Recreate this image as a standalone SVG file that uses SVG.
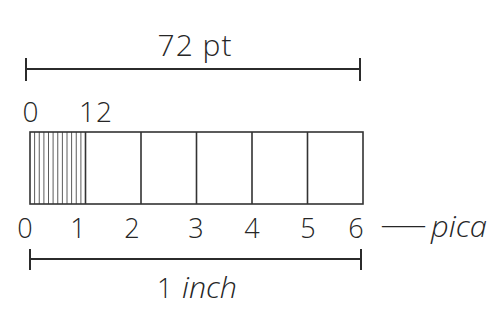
<svg xmlns="http://www.w3.org/2000/svg" width="501" height="324" viewBox="0 0 501 324">
  <style>
    .t { font-family: "Open Sans", "Noto Sans", "Liberation Sans", sans-serif; font-weight: 300; fill: #262626; }
    .i { font-style: italic; }
    .dim { stroke: #2b2b2b; stroke-width: 2; fill: none; }
    .box { stroke: #333; stroke-width: 1.6; fill: none; }
    .hatch { stroke: #4a4a4a; stroke-width: 0.9; }
  </style>
  <rect width="501" height="324" fill="#ffffff"/>
  <g id="dim-72pt">
    <path class="dim" d="M26 69 H360 M26 58 V81 M360 58 V81"/>
    <text class="t" x="195" y="56" font-size="30" letter-spacing="1" text-anchor="middle">72 pt</text>
  </g>
  <g id="labels-points" class="t" font-size="28" text-anchor="middle">
    <text x="30.5" y="122">0</text>
    <text x="96" y="122" letter-spacing="1">12</text>
  </g>
  <g id="ruler">
    <g id="hatching" class="hatch">
      <line x1="34.6" y1="132" x2="34.6" y2="204"/>
      <line x1="39.25" y1="132" x2="39.25" y2="204"/>
      <line x1="43.9" y1="132" x2="43.9" y2="204"/>
      <line x1="48.5" y1="132" x2="48.5" y2="204"/>
      <line x1="53.1" y1="132" x2="53.1" y2="204"/>
      <line x1="57.75" y1="132" x2="57.75" y2="204"/>
      <line x1="62.4" y1="132" x2="62.4" y2="204"/>
      <line x1="67" y1="132" x2="67" y2="204"/>
      <line x1="71.6" y1="132" x2="71.6" y2="204"/>
      <line x1="76.25" y1="132" x2="76.25" y2="204"/>
      <line x1="80.9" y1="132" x2="80.9" y2="204"/>
    </g>
    <rect class="box" x="30" y="132" width="333" height="72"/>
    <path class="box" d="M85.5 132 V204 M141 132 V204 M196.5 132 V204 M252 132 V204 M307.5 132 V204"/>
  </g>
  <g id="labels-picas" class="t" font-size="27" text-anchor="middle">
    <text x="25" y="238">0</text>
    <text x="78" y="238">1</text>
    <text x="132" y="238">2</text>
    <text x="196" y="238">3</text>
    <text x="252" y="238">4</text>
    <text x="308" y="238">5</text>
    <text x="356" y="238">6</text>
  </g>
  <g id="pica-label">
    <text class="t" x="380" y="234" font-size="27" textLength="47" lengthAdjust="spacingAndGlyphs">—</text>
    <text class="t i" x="431" y="237" font-size="29" textLength="56" lengthAdjust="spacingAndGlyphs">pica</text>
  </g>
  <g id="dim-inch">
    <path class="dim" d="M30 259 H361 M30 249 V270 M361 249 V270"/>
    <text class="t" x="157" y="298" font-size="27">1</text>
    <text class="t i" x="182" y="298" font-size="29" textLength="55" lengthAdjust="spacingAndGlyphs">inch</text>
  </g>
</svg>
